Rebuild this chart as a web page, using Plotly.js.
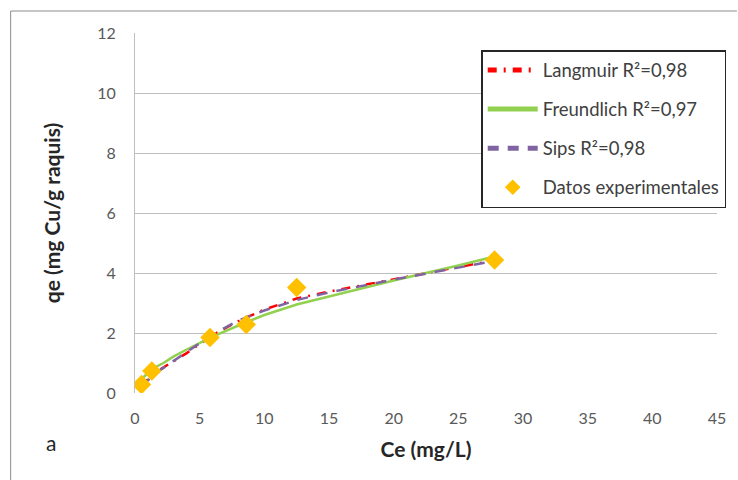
<!DOCTYPE html>
<html><head><meta charset="utf-8">
<script src="https://cdn.plot.ly/plotly-3.0.1.min.js"></script>
<style>body{margin:0;padding:0;background:#fff}#chart{width:738px;height:480px}</style>
</head><body><div id="chart"></div>
<script>
// Experimental data
const ceExp = [0.5, 1.3, 5.8, 8.6, 12.5, 27.8];
const qeExp = [0.28, 0.73, 1.85, 2.28, 3.52, 4.43];
// Model curves
const ceModel = [0.5, 1, 2, 3, 4, 6, 8, 10, 12.5, 15, 20, 25, 27.5];
const qeLangmuir = [0.25, 0.45, 0.8, 1.07, 1.33, 1.93, 2.4, 2.78, 3.15, 3.38, 3.8, 4.2, 4.4];
const qeSips = [0.22, 0.42, 0.78, 1.08, 1.38, 1.95, 2.42, 2.75, 3.1, 3.35, 3.78, 4.18, 4.38];
const ceFreund = [0.6, 1.3, 2.2, 3, 4, 6, 8, 10, 12.5, 15, 20, 25, 27.8];
const qeFreund = [0.5, 0.8, 1.0, 1.22, 1.45, 1.88, 2.25, 2.6, 2.95, 3.22, 3.75, 4.25, 4.55];
const xTicks = [0, 5, 10, 15, 20, 25, 30, 35, 40, 45];
const yTicks = [0, 2, 4, 6, 8, 10, 12];

const fontFam = 'Lato, "Open Sans", Arial, sans-serif';
const traces = [
  {x: ceModel, y: qeLangmuir, mode: 'lines', name: 'Langmuir R²=0,98', legendgroup: 'a',
   line: {color: '#FF0000', width: 2.5, dash: '9px,7px,2px,7px'}},
  {x: ceFreund, y: qeFreund, mode: 'lines', name: 'Freundlich R²=0,97', legendgroup: 'b',
   line: {color: '#92D050', width: 2.5}},
  {x: ceModel, y: qeSips, mode: 'lines', name: 'Sips R²=0,98', legendgroup: 'c',
   line: {color: '#8064A2', width: 2.5, dash: '11px,9px'}},
  {x: ceExp, y: qeExp, mode: 'markers', name: 'Datos experimentales', legendgroup: 'd',
   marker: {symbol: 'diamond', size: 15, color: '#FFC000'}}
];
const px = v => (v - 135) / 585;
const py = v => (393 - v) / 360;
const layout = {
  width: 738, height: 480,
  margin: {l: 135, r: 18, t: 33, b: 87},
  paper_bgcolor: '#fff', plot_bgcolor: '#fff',
  font: {family: fontFam, color: '#595959', size: 16},
  xaxis: {range: [0, 45], tickvals: xTicks, ticks: '', showgrid: false, zeroline: false,
    showline: false, ticklabelstandoff: 14, tickfont: {size: 16, color: '#595959'},
    title: {text: '<b>Ce (mg/L)</b>', font: {size: 21, color: '#262626'}, standoff: 16}},
  yaxis: {range: [0, 12], tickvals: yTicks, ticks: '', showgrid: true, gridcolor: '#BFBFBF', gridwidth: 1,
    zeroline: false, showline: true, linecolor: '#BFBFBF', linewidth: 1, ticklabelstandoff: 15,
    tickfont: {size: 16, color: '#595959'},
    title: {text: '<b>qe (mg Cu/g raquis)</b>', font: {size: 21, color: '#262626'}, standoff: 30}},
  showlegend: true,
  legend: {x: px(483), y: py(50), xanchor: 'left', yanchor: 'top', bgcolor: '#fff',
    bordercolor: '#262626', borderwidth: 1.5, tracegroupgap: 12, itemwidth: 50, itemsizing: 'constant',
    font: {size: 18.5, color: '#404040', family: fontFam}},
  shapes: [
    {type: 'line', xref: 'paper', yref: 'paper', x0: px(10), x1: px(740), y0: py(11), y1: py(11), line: {color: '#8c8c8c', width: 1}},
    {type: 'line', xref: 'paper', yref: 'paper', x0: px(10), x1: px(10), y0: py(11), y1: py(482), line: {color: '#8c8c8c', width: 1}}
  ],
  annotations: [
    {text: 'a', xref: 'paper', yref: 'paper', x: px(44), y: py(457), showarrow: false,
     font: {size: 21, color: '#262626'}}
  ]
};
Plotly.newPlot('chart', traces, layout, {displayModeBar: false, staticPlot: true});
</script></body></html>
